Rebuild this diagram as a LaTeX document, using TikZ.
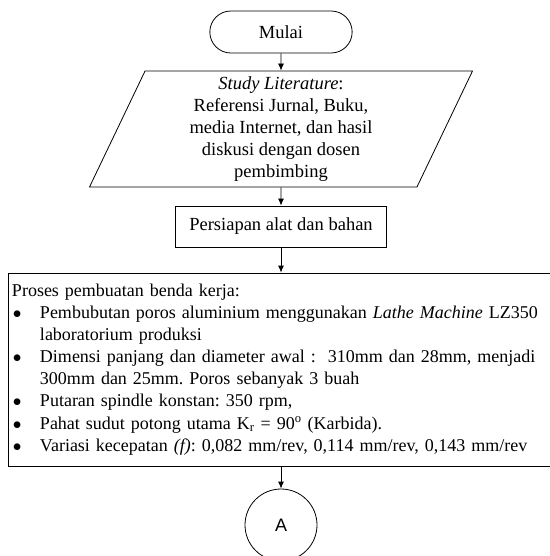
\documentclass[tikz,border=0pt]{standalone}
\usepackage{fontspec}
\setmainfont{Liberation Serif}
\newfontfamily\arialfont{Liberation Sans}
\usetikzlibrary{arrows.meta,shapes.geometric,shapes.misc}

\newcommand{\butir}[1]{\par\hangindent=28pt\hangafter=1\noindent\makebox[28pt][l]{\hspace{1pt}$\bullet$}#1\par}

\begin{document}
\begin{tikzpicture}[->,>={Latex[length=7pt,width=6pt]},x=1pt,y=-1pt,line width=0.8pt,
                    teks/.style={font=\fontsize{18.5}{22.1}\selectfont\frenchspacing},
                    every node/.style={draw,teks}]

\useasboundingbox (0,0) rectangle (549,556);

\node[rounded rectangle, minimum width=149pt, minimum height=42pt] (1) at(281,32) {Mulai};
\node[trapezium, trapezium left angle=63.6, trapezium right angle=116.4,
      trapezium stretches body, minimum width=383pt, minimum height=116pt,
      align=center] (2) at(281,129)
      {\textit{Study Literature}:\\ Referensi Jurnal, Buku,\\ media Internet, dan hasil\\ diskusi dengan dosen\\ pembimbing};
\node[rectangle, minimum width=211pt, minimum height=41pt] (3) at(281,226.5) {Persiapan alat dan bahan};
\node[rectangle, text width=538pt, inner xsep=4pt, minimum height=193pt,
      font=\fontsize{18}{22.1}\selectfont\frenchspacing] (4) at(281,369.5)
      {\raggedright\noindent Proses pembuatan benda kerja:
       \butir{\mbox{Pembubutan poros aluminium menggunakan \textit{Lathe Machine} LZ350}\newline laboratorium produksi}
       \butir{\mbox{Dimensi panjang dan diameter awal :\ \ 310mm dan 28mm, menjadi}\newline 300mm dan 25mm. Poros sebanyak 3 buah}
       \butir{Putaran spindle konstan: 350 rpm,}
       \butir{Pahat sudut potong utama K\textsubscript{r} = 90\textsuperscript{o} (Karbida).}
       \butir{\mbox{Variasi kecepatan \textit{(f)}: 0,082 mm/rev, 0,114 mm/rev, 0,143 mm/rev}}};
\node[circle, minimum size=72pt, font=\arialfont\fontsize{18}{20}\selectfont] (5) at(281,525) {A};

\draw
(1) edge (2)
(2) edge (3)
(3) edge (4)
(4) edge (5)
;
\end{tikzpicture}
\end{document}
